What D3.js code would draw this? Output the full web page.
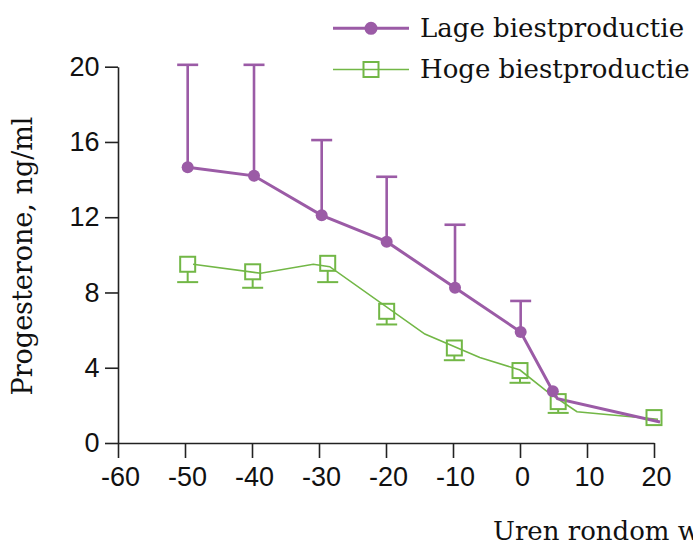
<!DOCTYPE html>
<html>
<head>
<meta charset="utf-8">
<script src="https://cdn.jsdelivr.net/npm/d3@7"></script>
<style>
  html, body { margin: 0; padding: 0; background: #fff; }
  svg { display: block; }
</style>
</head>
<body>
<svg id="chart" width="693" height="546"></svg>
<script>
// ---- data ----
const xTicks = [-60, -50, -40, -30, -20, -10, 0, 10, 20];
const yTicks = [0, 4, 8, 12, 16, 20];
const seriesNames = ["Lage biestproductie", "Hoge biestproductie"];
const yTitle = "Progesterone, ng/ml";
const xTitle = "Uren rondom werpen";

// Lage biestproductie (purple, filled circles, upper error bars)
const lageX = [-49.6, -39.7, -29.6, -19.9, -9.7, 0.1, 4.9];
const lageY = [14.65, 14.2, 12.1, 10.7, 8.25, 5.9, 2.75];
const lageUpper = [20.1, 20.1, 16.1, 14.15, 11.6, 7.55, null];
const lageLineX = [-49.6, -39.7, -29.6, -19.9, -9.7, 0.1, 4.9, 5.6, 20.9];
const lageLineY = [14.65, 14.2, 12.1, 10.7, 8.25, 5.9, 2.75, 2.35, 1.12];

// Hoge biestproductie (green, open squares, lower error bars)
const hogeX = [-49.6, -39.9, -28.7, -19.9, -9.8, 0.0, 5.7, 20.0];
const hogeY = [9.5, 9.1, 9.55, 7.0, 5.05, 3.85, 2.2, 1.35];
const hogeLower = [8.55, 8.25, 8.55, 6.3, 4.4, 3.2, 1.6, null];
const hogeLineX = [-48.8, -38.7, -30.85, -28.4, -14.2, -6.0, 0.0, 4.3, 8.5, 20.6];
const hogeLineY = [9.5, 9.02, 9.5, 9.37, 5.79, 4.55, 3.88, 2.67, 1.66, 1.26];

// ---- styles ----
const purple = "#9b5ba6";
const green = "#72b746";
const numFont = "'Liberation Sans', Arial, sans-serif";
const textFont = "'DejaVu Serif', serif";

const svg = d3.select("#chart");
const x = d3.scaleLinear().domain([-60, 20]).range([118, 654]);
const y = d3.scaleLinear().domain([0, 20]).range([443, 66.7]);
const fmt = d => String(d);

// axes
const yAxis = svg.append("g")
  .attr("transform", "translate(118,0)")
  .call(d3.axisLeft(y).tickValues(yTicks).tickFormat(fmt).tickSize(13).tickSizeOuter(0).tickPadding(5.5));
const xAxis = svg.append("g")
  .attr("transform", "translate(0,443)")
  .call(d3.axisBottom(x).tickValues(xTicks).tickFormat(fmt).tickSize(15).tickSizeOuter(0).tickPadding(9));
[yAxis, xAxis].forEach(g => {
  g.select(".domain").attr("stroke", "#222").attr("stroke-width", 1.6);
  g.selectAll(".tick line").attr("stroke", "#222").attr("stroke-width", 1.6);
  g.selectAll("text").attr("font-family", numFont).attr("font-size", 27).attr("fill", "#111");
});
xAxis.selectAll("text").attr("dx", 2);

// axis titles
svg.append("text")
  .attr("transform", "translate(32,256) rotate(-90)")
  .attr("text-anchor", "middle")
  .attr("font-family", textFont).attr("font-size", 27).attr("fill", "#111")
  .text(yTitle);
svg.append("text")
  .attr("x", 493).attr("y", 540)
  .attr("font-family", textFont).attr("font-size", 26).attr("fill", "#111")
  .text(xTitle);

// error bars
const lage = lageX.map((v, i) => ({ x: v, y: lageY[i], e: lageUpper[i] }));
const hoge = hogeX.map((v, i) => ({ x: v, y: hogeY[i], e: hogeLower[i] }));
const capW = 10.5;

const eb1 = svg.append("g").attr("stroke", purple).attr("stroke-width", 2.6);
lage.filter(d => d.e != null).forEach(d => {
  eb1.append("line").attr("x1", x(d.x)).attr("x2", x(d.x)).attr("y1", y(d.y)).attr("y2", y(d.e));
  eb1.append("line").attr("x1", x(d.x) - capW).attr("x2", x(d.x) + capW).attr("y1", y(d.e)).attr("y2", y(d.e));
});
const eb2 = svg.append("g").attr("stroke", green).attr("stroke-width", 2);
hoge.filter(d => d.e != null).forEach(d => {
  eb2.append("line").attr("x1", x(d.x)).attr("x2", x(d.x)).attr("y1", y(d.y) + 7.5).attr("y2", y(d.e));
  eb2.append("line").attr("x1", x(d.x) - capW).attr("x2", x(d.x) + capW).attr("y1", y(d.e)).attr("y2", y(d.e));
});

// lines
const line = d3.line().x(d => x(d[0])).y(d => y(d[1]));
svg.append("path")
  .datum(hogeLineX.map((v, i) => [v, hogeLineY[i]]))
  .attr("d", line).attr("fill", "none").attr("stroke", green).attr("stroke-width", 1.6);
svg.append("path")
  .datum(lageLineX.map((v, i) => [v, lageLineY[i]]))
  .attr("d", line).attr("fill", "none").attr("stroke", purple).attr("stroke-width", 3);

// markers
svg.append("g").selectAll("rect").data(hoge).join("rect")
  .attr("x", d => x(d.x) - 7.5).attr("y", d => y(d.y) - 7.5)
  .attr("width", 15).attr("height", 15)
  .attr("fill", "none").attr("stroke", green).attr("stroke-width", 2);
svg.append("g").selectAll("circle").data(lage).join("circle")
  .attr("cx", d => x(d.x)).attr("cy", d => y(d.y)).attr("r", 6)
  .attr("fill", purple);

// legend
const legend = svg.append("g");
const rows = [
  { name: seriesNames[0], color: purple, sw: 3, y: 28.3, mark: "circle" },
  { name: seriesNames[1], color: green, sw: 1.6, y: 69.5, mark: "square" }
];
rows.forEach(r => {
  legend.append("line").attr("x1", 333).attr("x2", 409).attr("y1", r.y).attr("y2", r.y)
    .attr("stroke", r.color).attr("stroke-width", r.sw);
  if (r.mark === "circle") {
    legend.append("circle").attr("cx", 371).attr("cy", r.y).attr("r", 6.5).attr("fill", r.color);
  } else {
    legend.append("rect").attr("x", 371 - 7.5).attr("y", r.y - 7.5).attr("width", 15).attr("height", 15)
      .attr("fill", "none").attr("stroke", r.color).attr("stroke-width", 2);
  }
  legend.append("text").attr("x", 420).attr("y", r.y + 8.5)
    .attr("font-family", textFont).attr("font-size", 26).attr("fill", "#111")
    .text(r.name);
});
</script>
</body>
</html>
